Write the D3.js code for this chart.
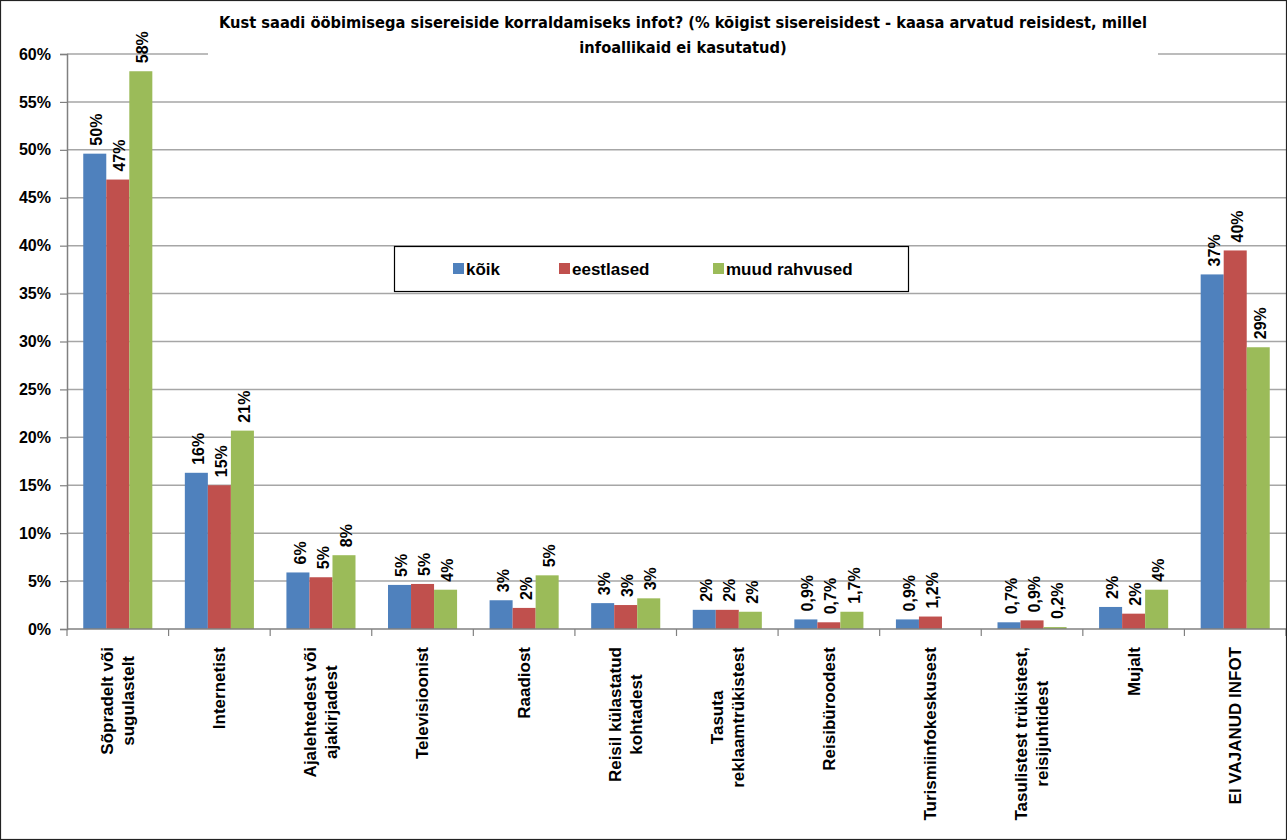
<!DOCTYPE html>
<html>
<head>
<meta charset="utf-8">
<script src="https://cdn.jsdelivr.net/npm/d3@7"></script>
<style>
  body { margin: 0; background: #fff; }
  svg { display: block; font-family: "Liberation Sans", Arial, sans-serif; }
</style>
</head>
<body>
<div id="chart"></div>
<script>
const categories = [
    ['Sõpradelt või', 'sugulastelt'],
    ['Internetist'],
    ['Ajalehtedest või', 'ajakirjadest'],
    ['Televisioonist'],
    ['Raadiost'],
    ['Reisil külastatud', 'kohtadest'],
    ['Tasuta', 'reklaamtrükistest'],
    ['Reisibüroodest'],
    ['Turismiinfokeskusest'],
    ['Tasulistest trükistest,', 'reisijuhtidest'],
    ['Mujalt'],
    ['EI VAJANUD INFOT']
];
const seriesNames = ['kõik', 'eestlased', 'muud rahvused'];
const seriesColors = ['#4F81BD', '#C0504D', '#9BBB59'];

const koik = [49.6, 16.3, 5.9, 4.6, 3.0, 2.7, 2.0, 1.0, 1.0, 0.7, 2.3, 37.0];
const eestlased = [46.9, 15.0, 5.4, 4.7, 2.2, 2.5, 2.0, 0.7, 1.3, 0.9, 1.6, 39.5];
const muud = [58.2, 20.7, 7.7, 4.1, 5.6, 3.2, 1.8, 1.8, null, 0.2, 4.1, 29.4];

const koikLabels = ['50%', '16%', '6%', '5%', '3%', '3%', '2%', '0,9%', '0,9%', '0,7%', '2%', '37%'];
const eestlasedLabels = ['47%', '15%', '5%', '5%', '2%', '3%', '2%', '0,7%', '1,2%', '0,9%', '2%', '40%'];
const muudLabels = ['58%', '21%', '8%', '4%', '5%', '3%', '2%', '1,7%', null, '0,2%', '4%', '29%'];

const yTicks = [0, 5, 10, 15, 20, 25, 30, 35, 40, 45, 50, 55, 60];
const titleLines = [
    'Kust saadi ööbimisega sisereiside korraldamiseks infot? (% kõigist sisereisidest - kaasa arvatud reisidest, millel',
    'infoallikaid ei kasutatud)'
];

const width = 1287;
const height = 840;
const plot = { left: 67, right: 1286, top: 54, bottom: 629 };

const series = [koik, eestlased, muud];
const seriesLabels = [koikLabels, eestlasedLabels, muudLabels];

const svg = d3.select('#chart')
    .append('svg')
    .attr('width', width)
    .attr('height', height);

svg.append('rect')
    .attr('width', width)
    .attr('height', height)
    .attr('fill', '#fff');

const x0 = d3.scaleBand()
    .domain(d3.range(categories.length))
    .range([plot.left, plot.right]);

const bw = x0.bandwidth();
const x1 = d3.scaleBand()
    .domain(d3.range(series.length))
    .range([bw * 0.16, bw * 0.84]);

const y = d3.scaleLinear()
    .domain([0, 60])
    .range([plot.bottom, plot.top]);

// gridlines
svg.append('g')
    .selectAll('line')
    .data(yTicks.filter(t => t > 0))
    .enter().append('line')
    .attr('x1', plot.left)
    .attr('x2', plot.right)
    .attr('y1', d => y(d))
    .attr('y2', d => y(d))
    .attr('stroke', '#a6a6a6')
    .attr('stroke-width', 1.5);

// y axis
const yAxis = svg.append('g')
    .attr('transform', `translate(${plot.left},0)`)
    .call(d3.axisLeft(y).tickValues(yTicks).tickSize(7).tickFormat(d => d + '%'));
yAxis.select('.domain').attr('stroke', '#808080').attr('stroke-width', 1.5);
yAxis.selectAll('.tick line').attr('stroke', '#808080').attr('stroke-width', 1.2);
yAxis.selectAll('.tick text')
    .attr('x', -16)
    .attr('fill', '#000')
    .style('font-size', '16px')
    .style('font-weight', 'bold')
    .style('font-family', '"Liberation Sans", Arial, sans-serif');

// bars
const groups = svg.append('g')
    .selectAll('g')
    .data(categories)
    .enter().append('g')
    .attr('transform', (d, i) => `translate(${x0(i)},0)`);

groups.each(function(cat, i) {
    const g = d3.select(this);
    series.forEach((vals, s) => {
        const v = vals[i];
        if (v == null) return;
        g.append('rect')
            .attr('x', x1(s))
            .attr('width', x1.bandwidth())
            .attr('y', y(v))
            .attr('height', y(0) - y(v))
            .attr('fill', seriesColors[s]);
        const lab = seriesLabels[s][i];
        if (lab) {
            const cx = x1(s) + x1.bandwidth() / 2 + 2;
            const ty = y(v) - 8;
            g.append('text')
                .attr('transform', `translate(${cx},${ty}) rotate(-90)`)
                .attr('dy', '0.35em')
                .attr('text-anchor', 'start')
                .style('font-size', '16px')
                .style('font-weight', 'bold')
                .text(lab);
        }
    });
});

// x axis
svg.append('line')
    .attr('x1', plot.left)
    .attr('x2', plot.right)
    .attr('y1', plot.bottom)
    .attr('y2', plot.bottom)
    .attr('stroke', '#808080')
    .attr('stroke-width', 1.5);

svg.append('g')
    .selectAll('line')
    .data(d3.range(categories.length + 1))
    .enter().append('line')
    .attr('x1', i => plot.left + i * bw)
    .attr('x2', i => plot.left + i * bw)
    .attr('y1', plot.bottom)
    .attr('y2', plot.bottom + 7)
    .attr('stroke', '#808080')
    .attr('stroke-width', 1.2);

// category labels, rotated, block anchored at the top
const labelTop = 647;
const lineGap = 21;
const catLabels = svg.append('g')
    .selectAll('g')
    .data(categories)
    .enter().append('g');

catLabels.each(function(lines, i) {
    const g = d3.select(this);
    const cx = x0(i) + bw / 2;
    const texts = lines.map(ln => g.append('text')
        .style('font-size', '17px')
        .style('font-weight', 'bold')
        .attr('text-anchor', 'middle')
        .text(ln));
    const maxW = d3.max(texts, t => t.node().getComputedTextLength());
    texts.forEach((t, k) => {
        const lx = cx + (k - (lines.length - 1) / 2) * lineGap;
        t.attr('transform', `translate(${lx},${labelTop + maxW / 2}) rotate(-90)`)
            .attr('dy', '0.35em');
    });
});

// title with white backing
svg.append('rect')
    .attr('x', 208)
    .attr('y', 6)
    .attr('width', 950)
    .attr('height', 54)
    .attr('fill', '#fff');

svg.append('g')
    .selectAll('text')
    .data(titleLines)
    .enter().append('text')
    .attr('x', 683)
    .attr('y', (d, i) => 28 + i * 25)
    .attr('text-anchor', 'middle')
    .style('font-family', '"Liberation Sans Narrow", "Arial Narrow", "DejaVu Sans Condensed", sans-serif')
    .style('font-size', '16.3px')
    .style('font-weight', 'bold')
    .text(d => d);

// legend
const legend = svg.append('g');
legend.append('rect')
    .attr('x', 394.5)
    .attr('y', 246.5)
    .attr('width', 514)
    .attr('height', 45)
    .attr('fill', '#fff')
    .attr('stroke', '#000')
    .attr('stroke-width', 1.2);

const legendX = [453, 559, 713];
seriesNames.forEach((name, s) => {
    legend.append('rect')
        .attr('x', legendX[s])
        .attr('y', 263)
        .attr('width', 11)
        .attr('height', 11)
        .attr('fill', seriesColors[s]);
    legend.append('text')
        .attr('x', legendX[s] + 13)
        .attr('y', 275)
        .style('font-size', '17px')
        .style('font-weight', 'bold')
        .text(name);
});

// outer border
svg.append('rect')
    .attr('x', 0.5)
    .attr('y', 0.5)
    .attr('width', width - 1)
    .attr('height', height - 1)
    .attr('fill', 'none')
    .attr('stroke', '#222')
    .attr('stroke-width', 1.2);
</script>
</body>
</html>
